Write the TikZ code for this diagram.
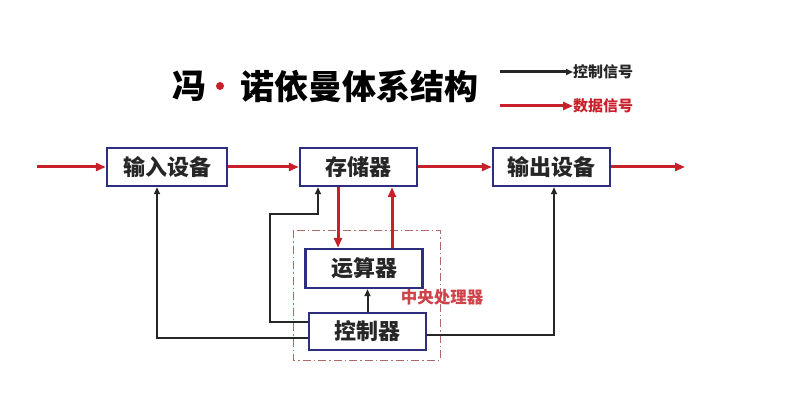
\documentclass[tikz,border=0pt]{standalone}
\usepackage{fontspec}
\setmainfont{Noto Sans CJK SC}
\usetikzlibrary{arrows.meta}
\definecolor{dred}{HTML}{C8202A}
\definecolor{navy}{HTML}{2E2E80}
\definecolor{cpuc}{HTML}{B06868}
\begin{document}
\begin{tikzpicture}[x=1pt,y=-1pt,
  box/.style={draw=navy,line width=2.4pt,fill=white,minimum width=117pt,minimum height=38pt,inner sep=0pt,font=\fontsize{22}{24}\selectfont\bfseries,text=black!85},
  data/.style={draw=dred,line width=3pt,-{Triangle[length=10pt,width=8pt]}},
  ctrl/.style={draw=black!85,line width=2pt,-{Triangle[length=7pt,width=6pt]}},
  cpubox/.style={draw=cpuc,line width=0.9pt,dash pattern=on 8pt off 3pt on 1.5pt off 3pt},
  legtxt/.style={font=\fontsize{15}{16}\selectfont\bfseries,anchor=west,inner sep=0pt}]
\useasboundingbox (0,0) rectangle (801,401);
\fill[white] (0,0) rectangle (801,401);
% title
\node[font=\fontsize{34}{36}\selectfont\bfseries,inner sep=0pt] (t1) at (189,86) {冯};
\node[circle,fill=dred,inner sep=0pt,minimum size=8pt] (dot) at (220,86) {};
\node[font=\fontsize{34}{36}\selectfont\bfseries,inner sep=0pt] (t2) at (359,86) {诺依曼体系结构};
% legend
\node[legtxt,text=black!85] (l1) at (573,72) {控制信号};
\node[legtxt,text=dred] (l2) at (573,106) {数据信号};
\coordinate (l1s) at (500,72);
\coordinate (l2s) at (500,106);
\draw[ctrl,line width=3pt] (l1s) -- (l1.west);
\draw[data] (l2s) -- (l2.west);
% cpu box
\draw[cpubox] (293,230) rectangle (440,360);
\node[font=\fontsize{16.5}{18}\selectfont\bfseries,text=dred!85,inner sep=0pt] (cpu) at (442,297) {中央处理器};
% boxes
\node[box,minimum width=120pt] (in) at (167,167) {输入设备};
\node[box] (mem) at (358.5,167) {存储器};
\node[box] (out) at (551.5,167) {输出设备};
\node[box,minimum height=39pt] (alu) at (364,268.5) {运算器};
\node[box,minimum height=37pt] (ctl) at (367.5,331.5) {控制器};
% data flow
\coordinate (src) at (37,167);
\coordinate (dst) at (685,167);
\draw[data] (src) -- (in.west);
\draw[data] (in.east) -- (mem.west);
\draw[data] (mem.east) -- (out.west);
\draw[data] (out.east) -- (dst);
\draw[data] ([xshift=-20.5pt]mem.south) -- ([xshift=-20.5pt]mem.south |- alu.north);
\draw[data] ([xshift=33.5pt]mem.south |- alu.north) -- ([xshift=33.5pt]mem.south);
% control flow
\coordinate (k1) at (270,214);
\draw[ctrl] (ctl.north) -- (ctl.north |- alu.south);
\draw[ctrl] ([yshift=9.5pt]ctl.west) -| (k1) -| ([xshift=-40.5pt]mem.south);
\draw[ctrl] ([yshift=-6.5pt]ctl.west) -| ([xshift=-10pt]in.south);
\draw[ctrl] ([yshift=-3.5pt]ctl.east) -| ([xshift=2.5pt]out.south);
\end{tikzpicture}
\end{document}
